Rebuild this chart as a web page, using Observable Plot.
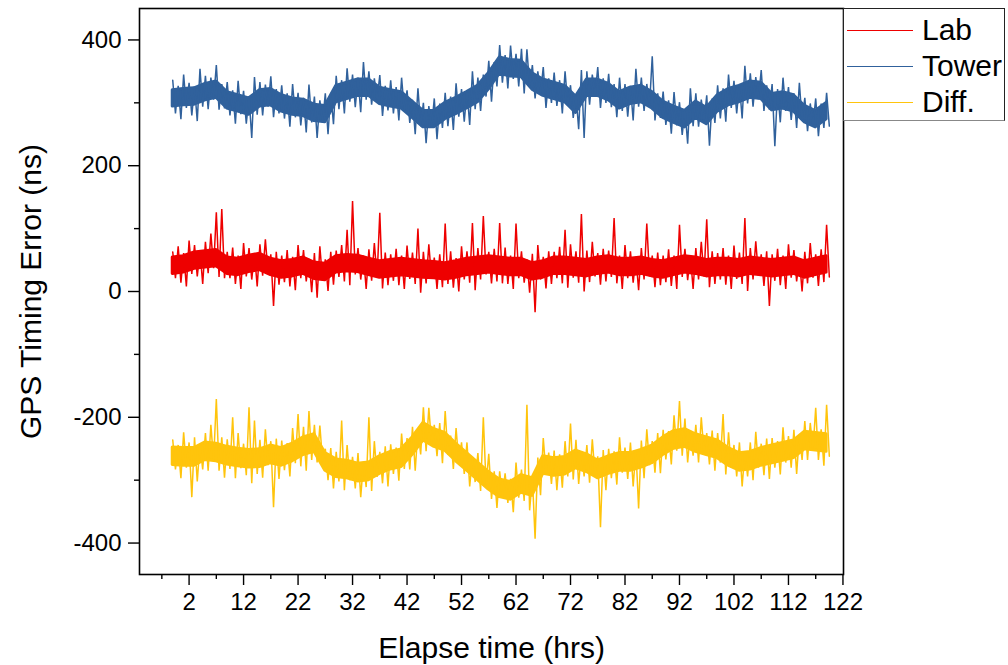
<!DOCTYPE html>
<html>
<head>
<meta charset="utf-8">
<script src="https://cdn.jsdelivr.net/npm/d3@7"></script>
<script src="https://cdn.jsdelivr.net/npm/@observablehq/plot@0.6"></script>
<style>
  html, body { margin: 0; padding: 0; background: #fff; }
  #wrap { position: relative; width: 1008px; height: 665px; font-family: "Liberation Sans", Arial, sans-serif; }
  #legend { position: absolute; left: 843px; top: 8px; width: 162px; height: 113px; border: 1px solid #222; border-bottom-color: #888; background: #fff; box-sizing: border-box; }
  .item { position: absolute; left: 0; height: 36px; width: 160px; }
  .item .sw { position: absolute; left: 3px; width: 66px; height: 0; border-top: 1.2px solid; }
  .item .lb { position: absolute; left: 78px; font-size: 30px; line-height: 30px; color: #000; white-space: nowrap; }
</style>
</head>
<body>
<div id="wrap"><div id="chart"></div><div id="legend"></div></div>
<script>
// ---- data ----
const T0 = -1;      // first raw sample, hours
const STEP = 0.5;   // raw sample spacing, hours
const BAND_T0 = -1; // first core-band sample, hours
const BAND_STEP = 2;
const seriesNames = ["Lab", "Tower", "Diff."];
const seriesColors = ["#ee0000", "#30619c", "#ffc40c"];

// raw noisy samples (every 0.5 h)
const tower = [
  336,283,327,274,345,292,332,280,326,271,
  354,294,343,290,340,305,360,289,330,291,
  333,280,320,267,335,282,319,267,310,244,
  341,281,333,280,329,294,342,277,322,283,
  328,275,315,262,330,277,316,264,308,253,
  329,269,310,244,304,269,315,250,316,266,
  343,290,336,283,355,302,345,293,340,285,
  365,305,350,297,339,304,344,279,327,288,
  336,283,325,272,340,287,320,268,305,250,
  323,263,300,236,295,260,307,242,299,260,
  316,263,310,257,331,278,322,270,320,265,
  350,290,340,287,345,310,367,302,365,326,
  392,332,376,323,391,338,378,326,386,315,
  385,325,360,307,350,315,357,292,339,300,
  348,295,336,283,350,297,328,276,313,258,
  352,244,350,297,345,310,357,292,339,300,
  346,293,330,277,340,287,330,278,327,272,
  354,294,340,287,330,295,374,272,315,276,
  318,265,304,251,317,264,301,249,290,235,
  323,263,315,262,305,270,312,232,307,268,
  328,275,323,270,345,292,335,283,330,275,
  359,299,347,294,341,306,352,287,328,289,
  330,231,322,269,340,287,325,273,315,260,
  332,272,308,255,299,264,307,247,299,260,
  316,263
];

const lab = [
  63,21,72,14,61,8,81,28,74,24,
  65,12,79,29,92,37,126,23,131,21,
  63,21,70,12,57,4,77,24,69,19,
  61,8,75,25,83,28,59,-23,63,11,
  57,15,66,8,55,2,74,21,66,16,
  52,-1,61,-10,72,17,51,1,63,11,
  65,23,74,16,98,10,144,27,69,19,
  57,4,67,17,77,22,125,5,62,10,
  59,17,68,10,57,4,73,20,62,12,
  100,-2,63,13,75,20,54,4,59,7,
  108,12,64,6,53,0,72,19,64,14,
  109,2,69,19,120,27,63,13,68,16,
  109,13,70,12,57,4,108,21,64,14,
  51,-2,60,-33,74,19,55,5,64,12,
  63,21,71,13,98,6,75,22,64,14,
  123,0,65,15,79,24,61,11,68,16,
  65,23,117,13,57,4,74,21,64,14,
  55,2,69,19,108,24,57,7,62,10,
  57,15,67,9,57,4,106,23,68,18,
  57,4,69,19,79,24,115,7,64,12,
  61,19,69,11,57,4,73,20,62,12,
  117,1,69,19,80,25,59,9,64,-23,
  59,17,68,10,57,4,75,22,66,16,
  53,0,63,13,77,22,59,9,67,15,
  106,23
];

const diff = [
  -236,-283,-244,-297,-224,-280,-240,-327,-232,-302,
  -243,-283,-225,-285,-212,-269,-171,-285,-232,-296,
  -235,-282,-200,-297,-225,-281,-242,-292,-184,-305,
  -205,-290,-236,-296,-219,-276,-238,-343,-234,-298,
  -237,-284,-241,-294,-217,-273,-195,-278,-215,-285,
  -190,-268,-212,-272,-213,-270,-250,-300,-249,-313,
  -255,-302,-205,-316,-244,-300,-263,-313,-257,-327,
  -271,-311,-200,-317,-238,-295,-255,-305,-246,-310,
  -243,-290,-248,-301,-226,-282,-233,-283,-215,-285,
  -219,-259,-184,-254,-185,-242,-212,-262,-209,-273,
  -190,-260,-229,-282,-217,-273,-240,-290,-240,-310,
  -263,-303,-257,-317,-200,-307,-258,-330,-286,-344,
  -286,-327,-289,-336,-298,-351,-272,-328,-283,-333,
  -180,-348,-295,-393,-264,-324,-233,-290,-256,-306,
  -253,-316,-259,-312,-238,-294,-210,-299,-236,-306,
  -254,-294,-244,-304,-235,-292,-262,-375,-252,-316,
  -250,-297,-254,-307,-232,-288,-248,-298,-240,-310,
  -252,-345,-237,-297,-219,-276,-238,-288,-225,-289,
  -220,-267,-222,-275,-197,-253,-174,-261,-202,-272,
  -221,-261,-212,-272,-200,-257,-225,-275,-221,-285,
  -225,-272,-195,-291,-224,-280,-244,-294,-240,-310,
  -254,-294,-240,-300,-223,-280,-242,-292,-234,-298,
  -233,-280,-238,-291,-216,-272,-230,-280,-220,-290,
  -228,-268,-206,-268,-209,-252,-185,-268,-219,-277,
  -180,-262
];

// dense core of each trace (upper / lower edge), every 2 h
const towerHi = [
  320,322,323,330,334,317,312,307,320,322,
  312,307,305,297,295,327,332,337,337,324,
  320,317,302,287,287,300,308,317,327,347,
  372,368,367,347,337,332,327,310,337,337,
  330,317,324,327,317,302,294,287,302,292,
  312,322,327,334,332,314,317,312,295,287,
  300
];
const towerLo = [
  294,296,297,304,308,291,286,281,294,296,
  286,281,279,271,269,301,306,311,311,298,
  294,291,276,261,261,274,282,291,301,321,
  346,342,341,321,311,306,301,284,311,311,
  304,291,298,301,291,276,268,261,276,266,
  286,296,301,308,306,288,291,286,269,261,
  274
];
const labHi = [
  54,56,62,64,66,54,52,57,60,52,
  48,50,54,46,44,56,58,57,52,48,
  50,52,50,48,47,45,48,52,54,56,
  54,52,52,45,48,54,54,52,50,54,
  56,52,52,54,50,48,52,56,54,50,
  52,52,50,54,52,50,52,54,48,52,
  56
];
const labLo = [
  28,30,36,38,40,28,26,31,34,26,
  22,24,28,20,18,30,32,31,26,22,
  24,26,24,22,21,19,22,26,28,30,
  28,26,26,19,22,28,28,26,24,28,
  30,26,26,28,24,22,26,30,28,24,
  26,26,24,28,26,24,26,28,22,26,
  30
];
const diffHi = [
  -248,-249,-249,-240,-242,-247,-250,-252,-251,-245,
  -249,-242,-232,-227,-257,-267,-269,-274,-272,-262,
  -255,-251,-232,-209,-219,-225,-242,-257,-272,-287,
  -299,-303,-292,-297,-262,-265,-263,-253,-259,-269,
  -262,-257,-257,-252,-245,-232,-222,-219,-227,-232,
  -237,-249,-257,-255,-249,-245,-241,-237,-223,-225,
  -227
];
const diffLo = [
  -276,-277,-277,-268,-270,-275,-278,-280,-279,-273,
  -277,-270,-260,-255,-285,-295,-297,-302,-300,-290,
  -283,-279,-260,-237,-247,-253,-270,-285,-300,-315,
  -327,-331,-320,-325,-290,-293,-291,-281,-287,-297,
  -290,-285,-285,-280,-273,-260,-250,-247,-255,-260,
  -265,-277,-285,-283,-277,-273,-269,-265,-251,-253,
  -255
];

const xMajorTicks = [2, 12, 22, 32, 42, 52, 62, 72, 82, 92, 102, 112, 122];
const xMinorTicks = [-3, 7, 17, 27, 37, 47, 57, 67, 77, 87, 97, 107, 117];
const yMajorTicks = [-400, -200, 0, 200, 400];
const yMinorTicks = [-300, -100, 100, 300];
const xTitle = "Elapse time (hrs)";
const yTitle = "GPS Timing Error (ns)";

// ---- build tables ----
const seriesValues = [lab, tower, diff];
const bandHi = [labHi, towerHi, diffHi];
const bandLo = [labLo, towerLo, diffLo];
const rows = [];
seriesValues.forEach((vals, k) => {
  vals.forEach((v, i) => rows.push({t: T0 + i * STEP, v, s: seriesNames[k]}));
});
const bands = [];
bandHi.forEach((his, k) => {
  his.forEach((hi, i) => bands.push({t: BAND_T0 + i * BAND_STEP, hi, lo: bandLo[k][i], s: seriesNames[k]}));
});

const chart = Plot.plot({
  width: 1008,
  height: 665,
  marginLeft: 139,
  marginRight: 165,
  marginTop: 8,
  marginBottom: 91,
  x: {domain: [-7.1, 122.1], label: null},
  y: {domain: [-450, 450], label: null},
  color: {domain: seriesNames, range: seriesColors},
  style: {fontFamily: "'Liberation Sans', Arial, sans-serif", background: "#fff", color: "#000", overflow: "visible"},
  marks: [
    Plot.areaY(bands, {x: "t", y1: "lo", y2: "hi", z: "s", fill: "s", stroke: "s", strokeWidth: 3, strokeLinejoin: "round"}),
    Plot.line(rows, {x: "t", y: "v", z: "s", stroke: "s", strokeWidth: 1.5, strokeLinejoin: "miter"}),
    Plot.frame({stroke: "#000", strokeWidth: 1.6}),
    Plot.axisY(yMajorTicks, {anchor: "left", tickSize: 11, tickPadding: 7, fontSize: 24, label: null, stroke: "#000", strokeWidth: 1.4, tickFormat: d => String(d)}),
    Plot.axisY(yMinorTicks, {anchor: "left", tickSize: 5, tickFormat: () => "", label: null, stroke: "#000", strokeWidth: 1.4}),
    Plot.axisX(xMajorTicks, {anchor: "bottom", tickSize: 11, tickPadding: 7, fontSize: 24, label: null, stroke: "#000", strokeWidth: 1.4, tickFormat: d => String(d)}),
    Plot.axisX(xMinorTicks, {anchor: "bottom", tickSize: 5, tickFormat: () => "", label: null, stroke: "#000", strokeWidth: 1.4}),
    Plot.text([xTitle], {frameAnchor: "bottom", dy: 74, lineAnchor: "middle", fontSize: 30}),
    Plot.text([yTitle], {frameAnchor: "left", dx: -108, rotate: -90, textAnchor: "middle", lineAnchor: "middle", fontSize: 30})
  ]
});
document.getElementById("chart").appendChild(chart);

// ---- legend ----
const legend = document.getElementById("legend");
const itemTops = [21, 57, 93];
seriesNames.forEach((name, k) => {
  const it = document.createElement("div");
  it.className = "item";
  it.style.top = (itemTops[k] - 18) + "px";
  const sw = document.createElement("div");
  sw.className = "sw";
  sw.style.top = "18px";
  sw.style.borderTopColor = seriesColors[k];
  const lb = document.createElement("div");
  lb.className = "lb";
  lb.style.top = "3px";
  lb.textContent = name;
  it.appendChild(sw); it.appendChild(lb);
  legend.appendChild(it);
});
</script>
</body>
</html>
